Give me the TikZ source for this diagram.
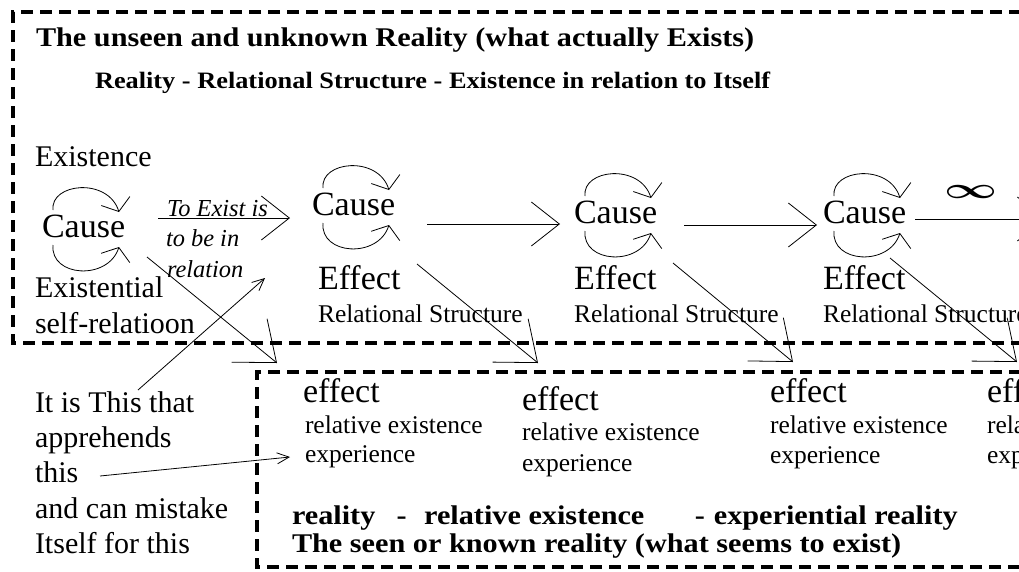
\documentclass[tikz,border=0pt]{standalone}
\usepackage{graphicx}
\usepackage{fontspec}
\setmainfont{Liberation Serif}
\usetikzlibrary{arrows.meta,calc}
\newcommand\wideb[1]{\scalebox{1.12}[1]{#1}}
\tikzset{
  txt/.style={anchor=base west, inner sep=0pt, outer sep=0pt},
  bigt/.style={txt, font=\fontsize{34}{34}\selectfont},
  midt/.style={txt, font=\fontsize{30}{30}\selectfont},
  smallt/.style={txt, font=\fontsize{25.5}{25.5}\selectfont},
  italt/.style={txt, font=\fontsize{24.4}{24.4}\selectfont\itshape},
  titlet/.style={txt, font=\fontsize{27}{27}\selectfont\bfseries},
  subt/.style={txt, font=\fontsize{23.5}{23.5}\selectfont\bfseries},
  boxline/.style={line width=3.5pt, dash pattern=on 12pt off 7pt},
  thin/.style={line width=0.8pt},
  bigarr/.style={thin, -{Straight Barb[length=28pt,width=44pt,line width=0.8pt]}},
  diagarr/.style={thin, -{Straight Barb[length=35pt,width=56pt,line width=0.8pt]}},
  smallarr/.style={thin, -{Straight Barb[length=12pt,width=11pt,line width=0.8pt]}},
  looparr/.style={thin, -{Straight Barb[length=11pt,width=30pt,line width=0.8pt]}},
  loops/.pic={
    \draw[looparr] (11,-27) .. controls (8,-54) and (66,-60) .. (77,-25);
    \draw[looparr] (11,8) .. controls (8,40) and (66,44) .. (77,10);
  }
}
\begin{document}
\begin{tikzpicture}[x=1pt,y=-1pt]
\useasboundingbox (0,0) rectangle (1019,571);
\clip (0,0) rectangle (1019,571);

% dashed frames
\draw[boxline] (1040,12) -- (13,12) -- (13,343) -- (1040,343);
\draw[boxline] (1040,372) -- (257,372) -- (257,567) -- (1040,567);

% top texts
\node[titlet] (title) at (36,46) {\wideb{The unseen and unknown Reality (what actually Exists)}};
\node[subt] (sub) at (95,88) {\wideb{Reality - Relational Structure - Existence in relation to Itself}};

% left column
\node[midt] (existence) at (35,166) {Existence};
\node[bigt] (c1) at (42,237) {Cause};
\pic at (42,237) {loops};
\node[midt] (existential) at (35,297) {Existential};
\node[midt] (selfrel) at (35,333) {self-relatioon};

\node[italt] (it1) at (167,216) {To Exist is};
\node[italt] (it2) at (166,246) {to be in};
\node[italt] (it3) at (167,277) {relation};

% causes
\node[bigt] (c2) at (312,215) {Cause};
\pic at (312,215) {loops};
\node[bigt] (c3) at (574,223) {Cause};
\pic at (574,223) {loops};
\node[bigt] (c4) at (823,223) {Cause};
\pic at (823,223) {loops};

\node[bigt] (e2) at (318,289) {Effect};
\node[bigt] (e3) at (574,289) {Effect};
\node[bigt] (e4) at (823,289) {Effect};
\node[smallt] (r2) at (318,322) {Relational Structure};
\node[smallt] (r3) at (574,322) {Relational Structure};
\node[smallt] (r4) at (823,322) {Relational Structure};

\node[inner sep=0pt] (inf) at (971,192) {\resizebox{53pt}{13pt}{\boldmath$\infty$}};

% horizontal arrows
\coordinate (a1s) at (158,218); \coordinate (a1e) at (290,218);
\coordinate (a2s) at (427,224); \coordinate (a2e) at (560,224);
\coordinate (a3s) at (684,225); \coordinate (a3e) at (817,225);
\coordinate (a4s) at (915,219); \coordinate (a4e) at (1046,219);
\draw[bigarr] (a1s) -- (a1e);
\draw[bigarr] (a2s) -- (a2e);
\draw[bigarr] (a3s) -- (a3e);
\draw[bigarr] (a4s) -- (a4e);

% diagonal arrows
\coordinate (d1s) at (147,257); \coordinate (d1e) at (277,363);
\coordinate (d2s) at (417,264); \coordinate (d2e) at (538,363);
\coordinate (d3s) at (673,263); \coordinate (d3e) at (793,362);
\coordinate (d4s) at (890,258); \coordinate (d4e) at (1017,362);
\draw[diagarr] (d1s) -- (d1e);
\draw[diagarr] (d2s) -- (d2e);
\draw[diagarr] (d3s) -- (d3e);
\draw[diagarr] (d4s) -- (d4e);

% lower left texts
\node[midt] (l1) at (35,412) {It is This that};
\node[midt] (l2) at (35,447) {apprehends};
\node[midt] (l3) at (35,482) {this};
\node[midt] (l4) at (35,518) {and can mistake};
\node[midt] (l5) at (35,553) {Itself for this};

\coordinate (s1s) at (138,390); \coordinate (s1e) at (265,278);
\coordinate (s2s) at (100,476); \coordinate (s2e) at (290,457);
\draw[smallarr] (s1s) -- (s1e);
\draw[smallarr] (s2s) -- (s2e);

% bottom box texts
\node[bigt] (f1) at (303,402) {effect};
\node[smallt] (f1a) at (305,433) {relative existence};
\node[smallt] (f1b) at (305,462) {experience};
\node[bigt] (f2) at (522,410) {effect};
\node[smallt] (f2a) at (522,440) {relative existence};
\node[smallt] (f2b) at (522,471) {experience};
\node[bigt] (f3) at (770,402) {effect};
\node[smallt] (f3a) at (770,433) {relative existence};
\node[smallt] (f3b) at (770,463) {experience};
\node[bigt] (f4) at (987,402) {effect};
\node[smallt] (f4a) at (987,433) {relative existence};
\node[smallt] (f4b) at (987,463) {experience};

\node[titlet] (bl1) at (292,524) {\wideb{reality\hspace{19pt}-\hspace{15.5pt}relative existence\hspace{45pt}-\hspace{8pt}experiential reality}};
\node[titlet] (bl2) at (292,552) {\wideb{The seen or known reality (what seems to exist)}};
\end{tikzpicture}
\end{document}
